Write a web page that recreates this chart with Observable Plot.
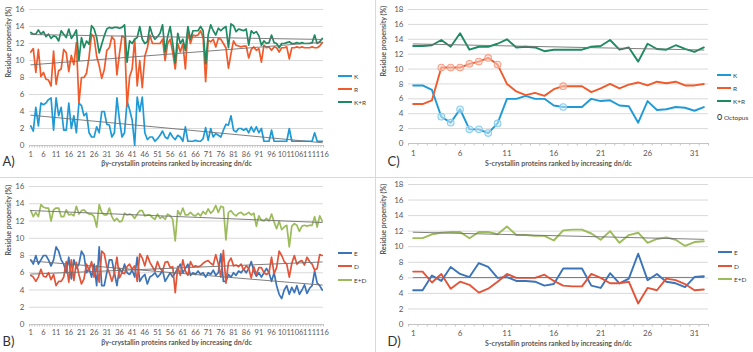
<!DOCTYPE html>
<html>
<head>
<meta charset="utf-8">
<script src="https://cdn.jsdelivr.net/npm/d3@7"></script>
<script src="https://cdn.jsdelivr.net/npm/@observablehq/plot@0.6"></script>
<style>
  body { margin: 0; background: #fff; }
  #fig { position: relative; width: 753px; height: 352px; overflow: hidden; font-family: Lato, "Open Sans", sans-serif; }
  .panel { position: absolute; }
  .panel svg { display: block; }
  .sep { position: absolute; background: #d9d9d9; }
  .lg { position: absolute; font-size: 6.5px; color: #404040; line-height: 10px; white-space: nowrap; }
  .lg .sw { display: inline-block; width: 14px; height: 2px; vertical-align: middle; margin-right: 2px; position: relative; top: -1px; }
</style>
</head>
<body>
<div id="fig"></div>
<script>
// ---- βγ-crystallins: K, R and K+R propensity (%) for 116 proteins ----
const betaK = [2.3,1.7,4.5,2.3,5.0,4.8,5.0,5.4,5.6,1.8,
  5.6,3.5,4.5,1.8,1.8,5.0,2.0,3.5,1.5,5.0,
  4.7,3.5,3.8,1.5,1.0,1.0,2.2,1.5,4.0,4.0,
  2.5,2.4,1.0,1.5,5.6,3.0,1.0,1.5,5.2,4.2,
  3.0,0.0,5.7,4.0,5.7,1.5,0.7,1.0,1.0,0.5,
  0.8,1.2,1.7,1.0,0.8,1.5,1.0,0.7,1.2,1.0,
  0.5,2.2,0.5,0.5,0.5,0.6,0.5,0.5,0.8,2.1,
  0.6,2.0,1.0,1.4,1.2,1.0,1.8,2.5,2.4,3.5,
  1.8,1.6,2.0,2.0,1.8,2.0,1.5,2.2,1.6,2.2,
  1.5,2.0,0.5,0.5,0.5,1.8,0.5,0.5,0.5,0.5,
  0.5,0.5,2.0,0.5,0.5,0.5,0.5,0.5,0.5,0.5,
  0.5,0.5,1.5,0.5,0.5,0.5];
const betaR = [11.0,11.4,8.6,11.3,8.1,8.6,7.8,7.7,7.0,11.1,
  7.2,8.8,9.0,11.3,10.9,8.7,10.6,9.5,12.1,5.0,
  8.0,8.0,8.5,10.4,13.1,12.7,10.5,9.4,7.9,8.9,
  11.2,11.5,12.8,12.4,8.3,10.8,12.9,12.7,4.6,8.1,
  9.0,12.5,7.0,10.0,6.8,10.5,11.5,13.0,12.0,12.0,
  12.0,12.0,12.5,10.0,12.0,12.5,11.0,9.0,12.0,11.0,
  12.0,9.0,13.5,12.0,13.0,12.9,13.0,13.5,12.7,7.5,
  12.4,12.2,12.5,11.6,12.6,12.5,12.0,11.5,9.1,10.8,
  12.3,11.8,11.7,11.6,11.7,11.7,10.3,11.3,11.6,11.2,
  11.4,9.8,11.8,11.5,11.6,11.2,11.6,11.5,11.0,11.5,
  11.5,11.6,10.2,11.5,11.5,11.6,11.5,11.6,11.5,11.5,
  11.5,11.6,11.5,11.5,11.7,12.1];
const betaKR = [13.3,13.1,13.1,13.6,13.1,13.4,12.8,13.1,12.6,12.9,
  12.8,12.3,13.5,13.1,12.7,13.7,12.6,13.0,13.6,10.0,
  12.7,11.5,12.3,11.9,14.1,13.7,12.7,10.9,11.9,12.9,
  13.7,13.9,13.8,13.9,13.9,13.8,13.9,14.2,9.8,12.3,
  12.0,12.5,12.7,14.0,12.5,12.0,12.2,14.0,13.0,12.5,
  12.8,13.2,14.2,11.0,12.8,14.0,12.0,9.7,13.2,12.0,
  12.5,11.2,14.0,12.5,13.5,13.5,13.5,14.0,13.5,9.6,
  13.0,14.2,13.5,13.0,13.8,13.5,13.8,14.0,11.5,14.3,
  14.1,13.4,13.7,13.6,13.5,13.7,11.8,13.5,13.2,13.4,
  12.9,11.8,12.3,12.0,12.1,13.0,12.1,12.0,11.5,12.0,
  12.0,12.1,12.2,12.0,12.0,12.1,12.0,12.1,12.0,12.0,
  12.0,12.1,13.0,12.0,12.2,12.6];

// ---- βγ-crystallins: E, D and E+D propensity (%) ----
const betaE = [7.5,7.0,8.0,7.0,7.5,8.0,8.0,7.5,6.8,7.5,
  9.0,8.5,7.5,7.0,6.0,7.8,5.3,7.5,6.5,7.0,
  8.5,8.0,6.0,6.5,5.5,7.0,4.5,9.0,4.5,4.5,
  6.0,7.5,7.5,6.0,4.5,6.5,6.0,7.0,6.0,5.8,
  6.3,5.5,7.8,5.0,5.5,5.8,4.7,5.5,5.7,6.0,
  5.5,5.8,6.3,5.0,5.5,6.0,5.5,6.0,6.5,7.0,
  6.0,6.5,7.0,5.7,6.0,5.8,6.2,5.8,6.0,5.5,
  6.0,5.8,6.3,5.7,6.0,8.2,5.0,5.0,5.8,5.5,
  6.0,5.7,6.2,6.0,6.4,6.0,6.5,7.3,6.2,5.6,
  6.0,5.5,6.0,6.5,6.0,5.0,6.0,4.5,3.5,3.0,
  4.0,4.5,3.5,4.3,3.7,4.5,3.5,4.0,4.6,3.6,
  4.2,4.5,6.2,4.8,4.5,4.0];
const betaD = [5.7,5.5,5.0,5.5,6.4,5.6,5.5,6.0,5.2,5.8,
  4.5,5.0,5.0,5.5,7.3,4.9,7.5,5.1,7.2,5.8,
  4.7,5.3,7.0,6.3,7.3,5.5,6.8,4.9,8.5,8.2,
  6.7,6.0,5.0,6.0,7.8,5.4,6.0,5.9,6.7,7.0,
  6.4,6.8,5.0,8.2,7.7,6.8,8.0,7.2,6.7,6.2,
  7.3,6.5,6.2,7.2,7.3,6.6,6.7,3.7,6.7,5.7,
  7.5,6.2,5.7,7.3,6.7,6.8,6.7,6.8,7.1,7.3,
  7.4,7.1,6.9,8.1,7.0,5.5,8.6,4.8,7.2,7.7,
  6.8,6.9,6.7,7.0,6.3,6.8,6.5,5.4,6.7,5.8,
  6.6,6.6,6.0,5.8,6.0,7.8,5.9,6.6,8.5,8.0,
  7.3,7.0,5.5,7.1,8.0,7.0,7.3,7.4,6.9,7.8,
  7.3,7.0,6.3,6.5,8.1,8.0];
const betaED = [13.2,12.5,13.0,12.5,13.9,13.6,13.5,13.5,12.0,13.3,
  13.5,13.5,12.5,12.5,13.3,12.7,12.8,12.6,13.7,12.8,
  13.2,13.3,13.0,12.8,12.8,12.5,11.3,13.9,13.0,12.7,
  12.7,13.5,12.5,12.0,12.3,11.9,12.0,12.9,12.7,12.8,
  12.7,12.3,12.8,13.2,13.2,12.6,12.7,12.7,12.4,12.2,
  12.8,12.3,12.5,12.2,12.8,12.6,12.2,9.7,13.2,12.7,
  13.5,12.7,12.7,13.0,12.7,12.6,12.9,12.6,13.1,12.8,
  13.4,12.9,13.2,13.8,13.0,13.7,13.6,9.8,13.0,13.2,
  12.8,12.6,12.9,13.0,12.7,12.8,13.0,12.7,12.9,11.4,
  12.6,12.1,12.0,12.3,12.0,12.8,11.9,11.1,12.0,11.0,
  11.3,11.5,9.0,11.4,11.7,11.5,10.8,11.4,11.5,11.4,
  11.5,11.5,12.5,11.3,12.6,12.0];

// ---- S-crystallins: 32 proteins ----
const sK  = [7.8,7.8,7.2,3.6,2.8,4.6,1.9,1.9,1.4,2.7,6.0,6.0,6.4,6.0,6.0,5.1,4.9,4.9,4.9,6.0,5.7,5.8,5.1,5.0,2.8,5.7,4.5,4.6,4.9,4.8,4.4,4.9];
const sR  = [5.3,5.3,5.8,10.2,10.2,10.2,10.7,11.0,11.5,10.6,8.0,7.0,6.5,6.8,6.4,7.3,7.7,7.7,7.7,6.9,7.4,8.0,7.4,7.9,8.2,7.8,8.3,8.1,8.3,7.8,7.8,8.0];
const sKR = [13.1,13.1,13.2,13.9,13.0,14.8,12.6,13.0,13.0,13.4,14.0,12.9,13.0,12.9,12.4,12.6,12.6,12.6,12.6,13.0,13.1,13.9,12.6,12.9,11.0,13.4,12.7,12.6,13.2,12.7,12.3,12.9];
const sE  = [4.4,4.4,6.3,5.6,7.4,6.5,6.1,7.9,7.4,6.0,6.1,5.6,5.6,5.5,5.0,5.2,7.2,7.2,7.2,5.0,4.7,6.6,5.3,5.9,9.1,5.7,6.5,5.5,5.3,4.8,6.1,6.2];
const sD  = [6.8,6.8,5.4,6.5,4.6,5.5,5.1,4.1,4.6,5.5,6.5,6.0,6.0,6.0,6.4,5.6,5.0,4.9,4.9,6.5,6.0,5.3,5.3,5.5,2.7,4.7,4.4,5.9,5.7,5.2,4.4,4.5];
const sED = [11.1,11.1,11.6,11.8,11.9,11.9,11.1,11.9,11.9,11.6,12.6,11.5,11.5,11.4,11.4,10.8,12.1,12.2,12.2,11.7,10.9,12.0,10.5,11.5,11.8,10.5,11.0,11.2,10.9,10.1,10.6,10.7];
// Octopus S-crystallins (ranks)
const octopusRanks = [4,5,6,7,8,9,10,17];

const yTitle = "Residue propensity (%)";
const betaTitle = "βγ-crystallin proteins ranked by increasing dn/dc";
const sTitle = "S-crystallin proteins ranked by increasing dn/dc";

const colors = {
  K: "#1f9ad6", R: "#f15a2b", "K+R": "#1e8a62",
  E: "#3b74b8", D: "#e2553a", "E+D": "#9cbb5b"
};

const rows = (name, values) => values.map((v, k) => ({i: k + 1, v, s: name}));

function panel(cfg) {
  const {n, ymax, series, trends, dots, w, h, m, tickPad, tickFont, titleDy, tagDy, yTitleDx, tagDx, lineWidth, xTitle, tag} = cfg;
  const yTicks = d3.range(0, ymax + 1, 2);
  const marks = [
    Plot.gridY(yTicks, {stroke: "#d9d9d9", strokeOpacity: 1}),
    Plot.axisY(yTicks, {tickSize: 0, tickPadding: 5, label: null, fontSize: 8}),
    Plot.axisX(d3.range(0.5, n + 1, 1), {tickSize: 2.5, tickFormat: () => "", label: null, stroke: "#c4c4c4"}),
    Plot.ruleY([0], {stroke: "#c4c4c4"}),
    Plot.axisX(d3.range(1, n + 1, 5), {tickSize: 0, tickPadding: tickPad, label: null, fontSize: tickFont, tickFormat: d => String(d)})
  ];
  for (const [name, values] of series) {
    marks.push(Plot.line(rows(name, values), {x: "i", y: "v", stroke: colors[name], strokeWidth: lineWidth}));
  }
  for (const [name, values] of trends) {
    marks.push(Plot.linearRegressionY(rows(name, values), {x: "i", y: "v", stroke: "#707070", strokeWidth: 0.9, ci: 0}));
  }
  if (dots) {
    for (const [name, values, fill, stroke] of dots) {
      const pts = octopusRanks.map(r => ({i: r, v: values[r - 1]}));
      marks.push(Plot.dot(pts, {x: "i", y: "v", r: 3.3, fill, fillOpacity: 0.55, stroke, strokeWidth: 1.1}));
    }
  }
  marks.push(
    Plot.text([yTitle], {text: d => d, frameAnchor: "left", dx: yTitleDx, rotate: -90, fontSize: 7, fontWeight: "bold", fill: "#595959"}),
    Plot.text([xTitle], {text: d => d, frameAnchor: "bottom", dy: titleDy, fontSize: 7, fontWeight: "bold", fill: "#595959"}),
    Plot.text([tag], {text: d => d, frameAnchor: "bottom-left", textAnchor: "start", dx: tagDx, dy: tagDy, fontSize: 13, fill: "#333"})
  );
  return Plot.plot({
    width: w, height: h,
    marginLeft: m[0], marginRight: m[1], marginTop: m[2], marginBottom: m[3],
    x: {domain: [0.5, n + 0.5]},
    y: {domain: [0, ymax]},
    style: {fontFamily: "Lato, 'Open Sans', sans-serif", fontSize: "8px", color: "#595959", background: "transparent", overflow: "visible"},
    marks
  });
}

const fig = document.getElementById("fig");

function place(node, left, top) {
  const d = document.createElement("div");
  d.className = "panel";
  d.style.left = left + "px";
  d.style.top = top + "px";
  d.appendChild(node);
  fig.appendChild(d);
}

function legend(left, entries) {
  for (const [label, y, color] of entries) {
    const d = document.createElement("div");
    d.className = "lg";
    d.style.left = left + "px";
    d.style.top = (y - 5) + "px";
    if (color) {
      d.innerHTML = `<span class="sw" style="background:${color}"></span>${label}`;
    } else {
      d.innerHTML = label;
    }
    fig.appendChild(d);
  }
}

// A) βγ K / R / K+R
place(panel({
  n: 116, ymax: 16, w: 375, h: 177, m: [29, 52, 9, 32], tickPad: 6, tickFont: 7.5, titleDy: 20, tagDy: 20, yTitleDx: -21, tagDx: -27, lineWidth: 1.7,
  series: [["K", betaK], ["R", betaR], ["K+R", betaKR]],
  trends: [["K", betaK], ["R", betaR], ["K+R", betaKR]],
  xTitle: betaTitle, tag: "A)"
}), 0, 0);

// B) βγ E / D / E+D
place(panel({
  n: 116, ymax: 16, w: 375, h: 175, m: [29, 52, 9, 28], tickPad: 5, tickFont: 7.5, titleDy: 20, tagDy: 21, yTitleDx: -21, tagDx: -27, lineWidth: 1.7,
  series: [["E", betaE], ["D", betaD], ["E+D", betaED]],
  trends: [["E", betaE], ["D", betaD], ["E+D", betaED]],
  xTitle: betaTitle, tag: "B)"
}), 0, 177);

// C) S-crystallin K / R / K+R with octopus proteins circled
place(panel({
  n: 32, ymax: 18, w: 378, h: 177, m: [33, 45, 9, 34], tickPad: 7, tickFont: 8, titleDy: 22, tagDy: 22, yTitleDx: -25, tagDx: -21, lineWidth: 1.9,
  series: [["K", sK], ["R", sR], ["K+R", sKR]],
  trends: [["K+R", sKR]],
  dots: [["K", sK, "#cbe9f8", "#8ccdee"], ["R", sR, "#fcd0c3", "#f6a189"]],
  xTitle: sTitle, tag: "C)"
}), 375, 0);

// D) S-crystallin E / D / E+D
place(panel({
  n: 32, ymax: 18, w: 378, h: 175, m: [33, 45, 7, 28], tickPad: 6, tickFont: 8, titleDy: 21, tagDy: 21, yTitleDx: -25, tagDx: -21, lineWidth: 1.9,
  series: [["E", sE], ["D", sD], ["E+D", sED]],
  trends: [["E", sE], ["E+D", sED]],
  xTitle: sTitle, tag: "D)"
}), 375, 177);

// panel separators
const v = document.createElement("div"); v.className = "sep";
Object.assign(v.style, {left: "375px", top: "0px", width: "1px", height: "352px"}); fig.appendChild(v);
const hz = document.createElement("div"); hz.className = "sep";
Object.assign(hz.style, {left: "0px", top: "177px", width: "753px", height: "1px"}); fig.appendChild(hz);

legend(338, [["K", 77, colors.K], ["R", 90, colors.R], ["K+R", 103, colors["K+R"]]]);
legend(338, [["E", 254, colors.E], ["D", 267, colors.D], ["E+D", 281, colors["E+D"]]]);
legend(717, [["K", 76, colors.K], ["R", 89, colors.R], ["K+R", 102, colors["K+R"]], ["<b>O</b> Octopus", 118, null]]);
legend(718, [["E", 253, colors.E], ["D", 267, colors.D], ["E+D", 280, colors["E+D"]]]);
</script>
</body>
</html>
